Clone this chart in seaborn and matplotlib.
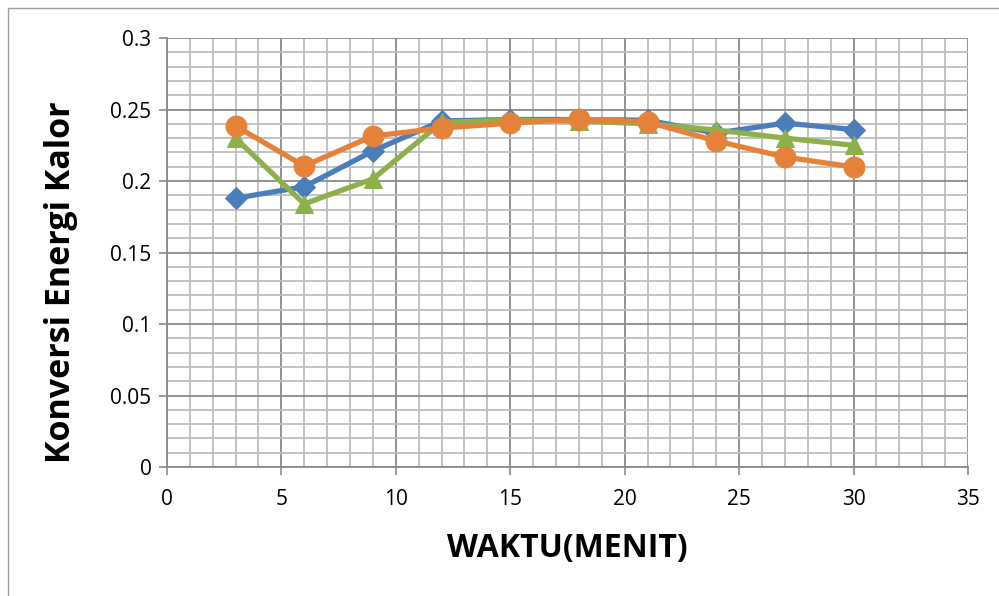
import matplotlib
matplotlib.use("Agg")
import matplotlib.pyplot as plt
import seaborn as sns
import numpy as np
import pandas as pd
from matplotlib.ticker import MultipleLocator, FuncFormatter
from matplotlib.patches import Rectangle

waktu = [3, 6, 9, 12, 15, 18, 21, 24, 27, 30]
seri_biru = [0.188, 0.196, 0.221, 0.242, 0.243, 0.243, 0.2425, 0.2335, 0.2405, 0.236]
seri_hijau = [0.230, 0.184, 0.2015, 0.241, 0.2425, 0.242, 0.240, 0.2357, 0.230, 0.225]
seri_oranye = [0.2385, 0.2105, 0.2315, 0.237, 0.2405, 0.2433, 0.2413, 0.228, 0.2168, 0.2098]

x_ticks = [0, 5, 10, 15, 20, 25, 30, 35]
y_ticks = [0, 0.05, 0.1, 0.15, 0.2, 0.25, 0.3]

sns.set_theme(style="white")
plt.rcParams['font.family'] = ['Open Sans', 'DejaVu Sans']
plt.rcParams['text.color'] = 'black'
plt.rcParams['axes.labelcolor'] = 'black'

fig = plt.figure(figsize=(9.99, 5.96), dpi=100)
ax = fig.add_axes([0.167, 0.2164, 0.802, 0.7198])

fig.patches.append(Rectangle((0.008, -0.01), 0.995, 0.997, transform=fig.transFigure,
                             fill=False, edgecolor='#a0a0a0', linewidth=1.0))

series = [
    (seri_biru, '#4A7EBB', 'D', 11),
    (seri_hijau, '#8EB04B', '^', 13),
    (seri_oranye, '#E5823A', 'o', 15),
]
for i, (vals, col, mk, ms) in enumerate(series):
    df = pd.DataFrame({'x': waktu, 'y': vals})
    sns.lineplot(data=df, x='x', y='y', ax=ax, color=col, linewidth=3.8,
                 marker=mk, markersize=ms, markeredgecolor=col, zorder=3 + i)

ax.set_xlim(0, 35)
ax.set_ylim(0, 0.3)
ax.set_xticks(x_ticks)
ax.set_yticks(y_ticks)
ax.xaxis.set_minor_locator(MultipleLocator(1))
ax.yaxis.set_minor_locator(MultipleLocator(0.01))
ax.yaxis.set_major_formatter(FuncFormatter(lambda v, p: ('%g' % round(v, 3))))
ax.grid(which='minor', color='#bdbdbd', linewidth=1.3)
ax.grid(which='major', color='#8a8a8a', linewidth=1.3)
ax.set_axisbelow(True)

for s in ['top', 'right']:
    ax.spines[s].set_visible(False)
for s in ['left', 'bottom']:
    ax.spines[s].set_color('#8a8a8a')
    ax.spines[s].set_linewidth(1.3)

ax.tick_params(axis='both', which='major', direction='out', length=6, width=1.2,
               color='#8a8a8a', labelsize=15, labelcolor='black', left=True, bottom=True)
ax.tick_params(axis='both', which='minor', length=0)
ax.tick_params(axis='x', pad=10)
ax.tick_params(axis='y', pad=5)

ax.set_xlabel('WAKTU(MENIT)', fontsize=23, fontweight='bold', labelpad=16, color='black')
ax.set_ylabel('Konversi Energi Kalor', fontsize=24.5, fontweight='bold', color='black')
ax.yaxis.set_label_coords(-0.111, 0.43)

fig.savefig('out.png', dpi=100)
